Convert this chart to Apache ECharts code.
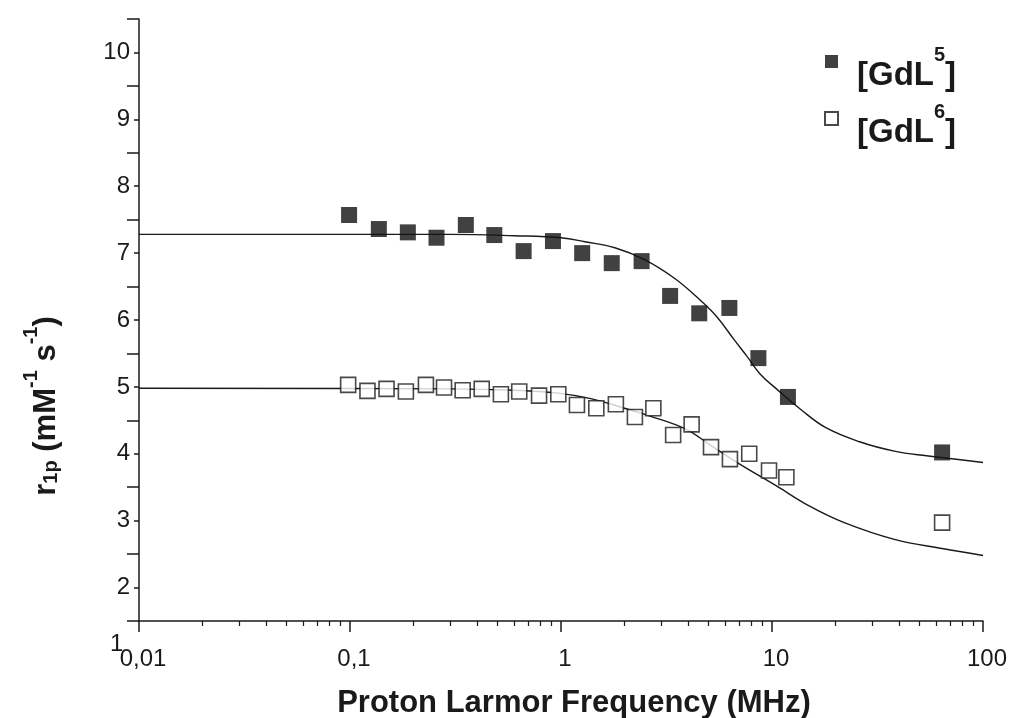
<!DOCTYPE html>
<html>
<head>
<meta charset="utf-8">
<script src="https://cdn.jsdelivr.net/npm/echarts@6/dist/echarts.min.js"></script>
<style>
html,body{margin:0;padding:0;background:#fff}
#chart{width:1012px;height:718px}
</style>
</head>
<body>
<div id="chart"></div>
<script>
// measured points (MHz, mM-1 s-1)
const gdl5Freq = [0.099, 0.137, 0.188, 0.257, 0.354, 0.483, 0.665, 0.916, 1.26, 1.74, 2.41, 3.29, 4.52, 6.28, 8.62, 11.9, 64];
const gdl5R1 = [7.57, 7.36, 7.31, 7.23, 7.42, 7.27, 7.03, 7.18, 7.00, 6.85, 6.88, 6.36, 6.10, 6.18, 5.43, 4.85, 4.02];
const gdl6Freq = [0.098, 0.121, 0.149, 0.184, 0.229, 0.279, 0.342, 0.421, 0.519, 0.634, 0.787, 0.971, 1.19, 1.47, 1.82, 2.24, 2.74, 3.40, 4.16, 5.14, 6.32, 7.80, 9.68, 11.7, 64];
const gdl6R1 = [5.03, 4.94, 4.97, 4.93, 5.03, 4.99, 4.95, 4.97, 4.89, 4.93, 4.87, 4.89, 4.73, 4.68, 4.74, 4.55, 4.68, 4.28, 4.44, 4.10, 3.92, 4.00, 3.75, 3.65, 2.97];
// fitted curves
const fit5Freq = [0.01, 0.3, 0.6, 1, 1.3, 1.8, 2.5, 3.5, 4.7, 5.5, 6.6, 7.6, 8.8, 10.5, 13.6, 18, 26, 38, 54, 100];
const fit5R1 = [7.28, 7.28, 7.26, 7.23, 7.17, 7.08, 6.9, 6.61, 6.26, 6.04, 5.71, 5.46, 5.19, 4.97, 4.67, 4.39, 4.18, 4.04, 3.97, 3.87];
const fit6Freq = [0.01, 0.3, 0.6, 0.95, 1.4, 2, 2.6, 3.9, 5.1, 7, 10.5, 15, 22, 38, 65, 100];
const fit6R1 = [4.98, 4.97, 4.95, 4.91, 4.82, 4.68, 4.57, 4.37, 4.13, 3.85, 3.52, 3.22, 2.97, 2.72, 2.58, 2.48];
// axis ticks
const xMajor = [0.01, 0.1, 1, 10, 100];
const xMinor = [];
[0.01, 0.1, 1, 10].forEach(d => { for (let k = 2; k <= 9; k++) xMinor.push(+(d * k).toPrecision(3)); });
const yLabels = [2, 3, 4, 5, 6, 7, 8, 9, 10];

const INK = '#1a1a1a';
const FONT = '"Liberation Sans", Arial, sans-serif';

const chart = echarts.init(document.getElementById('chart'));

const zip = (xs, ys) => xs.map((x, i) => [x, ys[i]]);

chart.setOption({
    backgroundColor: '#ffffff',
    animation: false,
    grid: {left: 139, right: 29, top: 19, bottom: 97, outerBoundsMode: 'none'},
    legend: {
        orient: 'vertical', left: 819, top: 32, itemWidth: 13, itemHeight: 13, itemGap: 2,
        data: ['GdL5', 'GdL6'],
        formatter: n => `{g|[GdL}{s|${n.slice(3)}}{g|]}`,
        textStyle: {
            padding: [6, 0, 0, 14],
            rich: {
                g: {fontFamily: FONT, fontSize: 33, fontWeight: 'bold', color: INK, lineHeight: 38, padding: [22, 0, 0, 0]},
                s: {fontFamily: FONT, fontSize: 20, fontWeight: 'bold', color: INK, verticalAlign: 'top', lineHeight: 20}
            }
        }
    },
    xAxis: [{
        type: 'log', logBase: 10, min: 0.01, max: 100,
        name: 'Proton Larmor Frequency (MHz)', nameLocation: 'middle', nameGap: 67,
        nameTextStyle: {fontFamily: FONT, fontSize: 31, fontWeight: 'bold', color: INK, padding: [0, 0, 0, 26]},
        axisLine: {lineStyle: {color: INK, width: 1.5}},
        axisTick: {customValues: xMajor, length: 11, lineStyle: {color: INK, width: 1.5}},
        axisLabel: {customValues: xMajor, margin: 26, fontFamily: FONT, fontSize: 24, color: INK,
            padding: [0, 0, 0, 8], formatter: v => String(v).replace('.', ',')},
        splitLine: {show: false}, minorSplitLine: {show: false}
    }, {
        type: 'log', logBase: 10, min: 0.01, max: 100, position: 'bottom',
        axisLine: {show: false},
        axisTick: {customValues: xMinor, length: 5, lineStyle: {color: INK, width: 1.2}},
        axisLabel: {show: false}, splitLine: {show: false}
    }],
    yAxis: {
        type: 'value', min: 1.5, max: 10.5, interval: 1,
        name: '{b|r}{sub|1p}{b| (mM}{sup|-1}{b| s}{sup|-1}{b|)}',
        nameLocation: 'middle', nameRotate: 90, nameGap: 78,
        nameTextStyle: {
            padding: [0, 172, 0, 0],
            rich: {
                b: {fontFamily: FONT, fontSize: 31, fontWeight: 'bold', color: INK, lineHeight: 40, padding: [10, 0, 0, 0]},
                sub: {fontFamily: FONT, fontSize: 20, fontWeight: 'bold', color: INK, verticalAlign: 'bottom', lineHeight: 40},
                sup: {fontFamily: FONT, fontSize: 20, fontWeight: 'bold', color: INK, verticalAlign: 'top', lineHeight: 18}
            }
        },
        axisLine: {show: true, lineStyle: {color: INK, width: 1.5}},
        axisTick: {show: true, length: 12, lineStyle: {color: INK, width: 1.5}},
        minorTick: {show: true, splitNumber: 2, length: 5, lineStyle: {color: INK, width: 1.5}},
        axisLabel: {customValues: yLabels, margin: 9, fontFamily: FONT, fontSize: 24, color: INK,
            verticalAlign: 'middle', padding: [0, 0, 15, 0]},
        splitLine: {show: false}, minorSplitLine: {show: false}
    },
    series: [{
        name: 'fit5', type: 'line', data: zip(fit5Freq, fit5R1), smooth: 0.4, showSymbol: false,
        lineStyle: {color: INK, width: 1.4}, silent: true, z: 1
    }, {
        name: 'fit6', type: 'line', data: zip(fit6Freq, fit6R1), smooth: 0.4, showSymbol: false,
        lineStyle: {color: INK, width: 1.4}, silent: true, z: 1
    }, {
        name: 'GdL5', type: 'scatter', data: zip(gdl5Freq, gdl5R1), symbol: 'rect', symbolSize: 16,
        itemStyle: {color: '#111'}, z: 3
    }, {
        name: 'GdL6', type: 'scatter', data: zip(gdl6Freq, gdl6R1), symbol: 'rect', symbolSize: 15,
        itemStyle: {color: '#ffffff', borderColor: INK, borderWidth: 1.6}, z: 3
    }]
});

// the "1" label sits below the axis start, as in the original figure
const y1 = chart.convertToPixel({yAxisIndex: 0}, 1);
const x0 = chart.convertToPixel({xAxisIndex: 0}, 0.01);
chart.setOption({
    graphic: [{
        type: 'text', left: x0 - 29, top: y1 - 22,
        style: {text: '1', font: `24px ${FONT}`, fill: INK}
    }]
});

window.addEventListener('resize', () => chart.resize());
</script>
</body>
</html>
